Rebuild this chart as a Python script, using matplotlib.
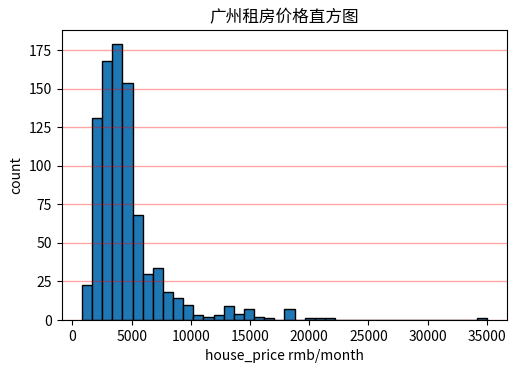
import numpy as np
import matplotlib
matplotlib.use("Agg")
import matplotlib.pyplot as plt

plt.rcParams['font.family'] = ['Noto Sans CJK SC', 'DejaVu Sans']
plt.rcParams['axes.unicode_minus'] = False

# histogram: 40 bins between min and max price
price_min = 800
price_max = 35000
n_bins = 40
counts = [23, 131, 168, 179, 154, 68, 30, 34, 18, 14,
          10, 3, 2, 3, 9, 4, 7, 2, 1, 0,
          7, 0, 1, 1, 1, 0, 0, 0, 0, 0,
          0, 0, 0, 0, 0, 0, 0, 0, 0, 1]

edges = np.linspace(price_min, price_max, n_bins + 1)
centers = (edges[:-1] + edges[1:]) / 2

fig = plt.figure(figsize=(5.18, 3.73), dpi=100)
ax = fig.add_axes([0.119, 0.142, 0.860, 0.777])

ax.hist(centers, bins=edges, weights=counts, color='#1f77b4', edgecolor='black', linewidth=1)
ax.grid(axis='y', color='r', alpha=0.35, linewidth=1)

ax.set_title('广州租房价格直方图', fontsize=12)
ax.set_xlabel('house_price rmb/month')
ax.set_ylabel('count')

fig.savefig('out.png', dpi=100)
